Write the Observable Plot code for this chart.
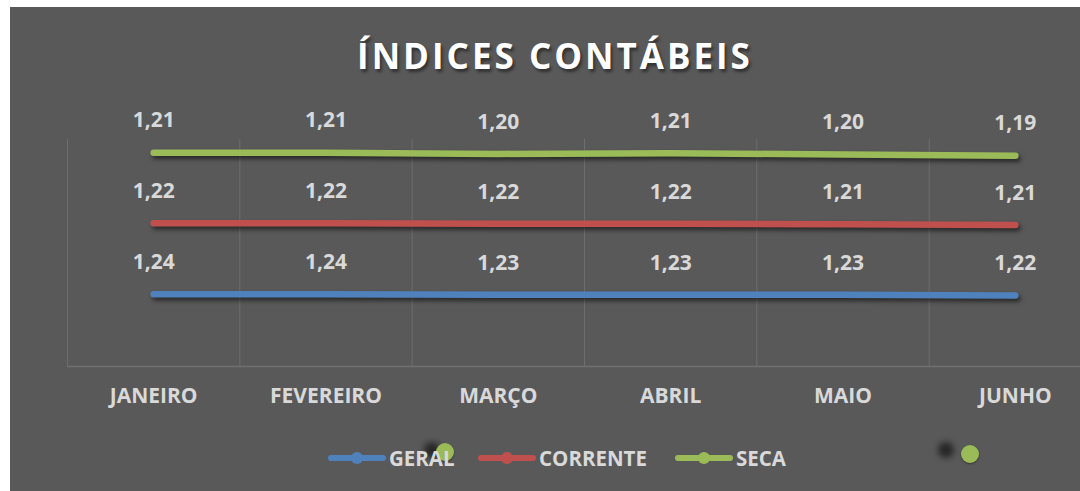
<!DOCTYPE html>
<html>
<head>
<meta charset="utf-8">
<script src="https://cdn.jsdelivr.net/npm/d3@7"></script>
<script src="https://cdn.jsdelivr.net/npm/@observablehq/plot@0.6"></script>
<style>
  html, body { margin: 0; padding: 0; background: #ffffff; }
  body { width: 1080px; height: 491px; overflow: hidden; position: relative; font-family: "Open Sans", sans-serif; }
  #chart { position: absolute; left: 10px; top: 7px; width: 1070px; height: 484px; background: #595959; }
  #title { position: absolute; left: 0; top: 24px; width: 1070px; text-align: center; color: #ffffff;
           font-size: 35px; font-weight: 700; letter-spacing: 3px; padding-left: 20px; box-sizing: border-box;
           text-shadow: 2px 3px 3px rgba(0,0,0,0.45); line-height: 50px; }
  #plot { position: absolute; left: 0; top: 88px; }
  #legend { position: absolute; left: 0; top: 431px; width: 1070px; height: 40px; }
  .item { position: absolute; top: 0; height: 40px; display: flex; align-items: center; color: #d9d9d9;
          font-size: 20.5px; font-weight: 700; }
  .item svg { margin-right: 2px; }
</style>
</head>
<body>
<div id="chart">
  <div id="title">ÍNDICES CONTÁBEIS</div>
  <div id="plot"></div>
  <div id="legend"></div>
</div>
<script>
const months = ["JANEIRO", "FEVEREIRO", "MARÇO", "ABRIL", "MAIO", "JUNHO"];
const seriesNames = ["GERAL", "CORRENTE", "SECA"];
const geral = [1.24, 1.24, 1.23, 1.23, 1.23, 1.22];
const corrente = [1.22, 1.22, 1.22, 1.22, 1.21, 1.21];
const seca = [1.21, 1.21, 1.20, 1.21, 1.20, 1.19];
const colors = ["#4F81BD", "#C0504D", "#9BBB59"];

const valuesBySeries = [geral, corrente, seca];
const data = [];
seriesNames.forEach((s, si) => {
  months.forEach((m, i) => data.push({series: s, idx: i, month: m, value: valuesBySeries[si][i]}));
});
const boundaries = months.map((m, i) => i - 0.5);
const fmt = v => v.toFixed(2).replace(".", ",");

const plot = Plot.plot({
  width: 1070,
  height: 330,
  marginTop: 38,
  marginBottom: 59,
  x: {domain: [-0.5, 5.5], range: [57, 1091], label: null},
  y: {domain: [0, 4], axis: null},
  color: {domain: seriesNames, range: colors},
  style: {background: "transparent", color: "#d9d9d9", fontFamily: "Open Sans, sans-serif"},
  marks: [
    Plot.ruleX(boundaries, {x: d => d, y1: 0, y2: 4, stroke: "#6e6e6e", strokeWidth: 1, insetBottom: -6}),
    Plot.ruleY([0], {x1: -0.5, x2: 5.5, stroke: "#717171", strokeWidth: 1.5}),
    Plot.axisX({ticks: months.map((m, i) => i), tickFormat: i => months[i], tickSize: 0, tickPadding: 22,
                label: null, fontSize: 21, fontWeight: 700, fill: "#d9d9d9"}),
    Plot.lineY(data, Plot.stackY2({x: "idx", y: "value", z: "series", stroke: "series",
                strokeWidth: 6.5, strokeLinecap: "round", strokeLinejoin: "round"})),
    Plot.text(data, Plot.stackY2({x: "idx", y: "value", z: "series", text: d => fmt(d.value),
                dy: -32, fontSize: 21, fontWeight: 700, fill: "#d9d9d9"}))
  ]
});
document.getElementById("plot").appendChild(plot);
plot.querySelectorAll('g[aria-label="line"] path').forEach(p => p.style.filter = "drop-shadow(2px 3px 2px rgba(0,0,0,0.55))");

// legend: stray empty-series markers visible in the reference (drawn behind the text)
const legend = document.getElementById("legend");
[[422, 12, 435, 14], [936, 12, 960, 16]].forEach(([bx, by, gx, gy]) => {
  const d = document.createElement("div");
  d.style.cssText = `position:absolute;left:${bx-8}px;top:${by-8}px;width:16px;height:16px;border-radius:50%;background:#1e1e1e;filter:blur(3px);opacity:0.85`;
  legend.appendChild(d);
  const g = document.createElement("div");
  g.style.cssText = `position:absolute;left:${gx-9}px;top:${gy-9}px;width:18px;height:18px;border-radius:50%;background:#9BBB59;box-shadow:0 1px 2px rgba(0,0,0,0.4)`;
  legend.appendChild(g);
});
const legendX = [317, 467, 664];
seriesNames.forEach((s, i) => {
  const el = document.createElement("div");
  el.className = "item";
  el.style.left = legendX[i] + "px";
  el.innerHTML = `<svg width="60" height="14"><line x1="4" y1="7" x2="56" y2="7" stroke="${colors[i]}" stroke-width="6" stroke-linecap="round"/><circle cx="30" cy="7" r="6" fill="${colors[i]}"/></svg><span>${s}</span>`;
  legend.appendChild(el);
});
</script>
</body>
</html>
